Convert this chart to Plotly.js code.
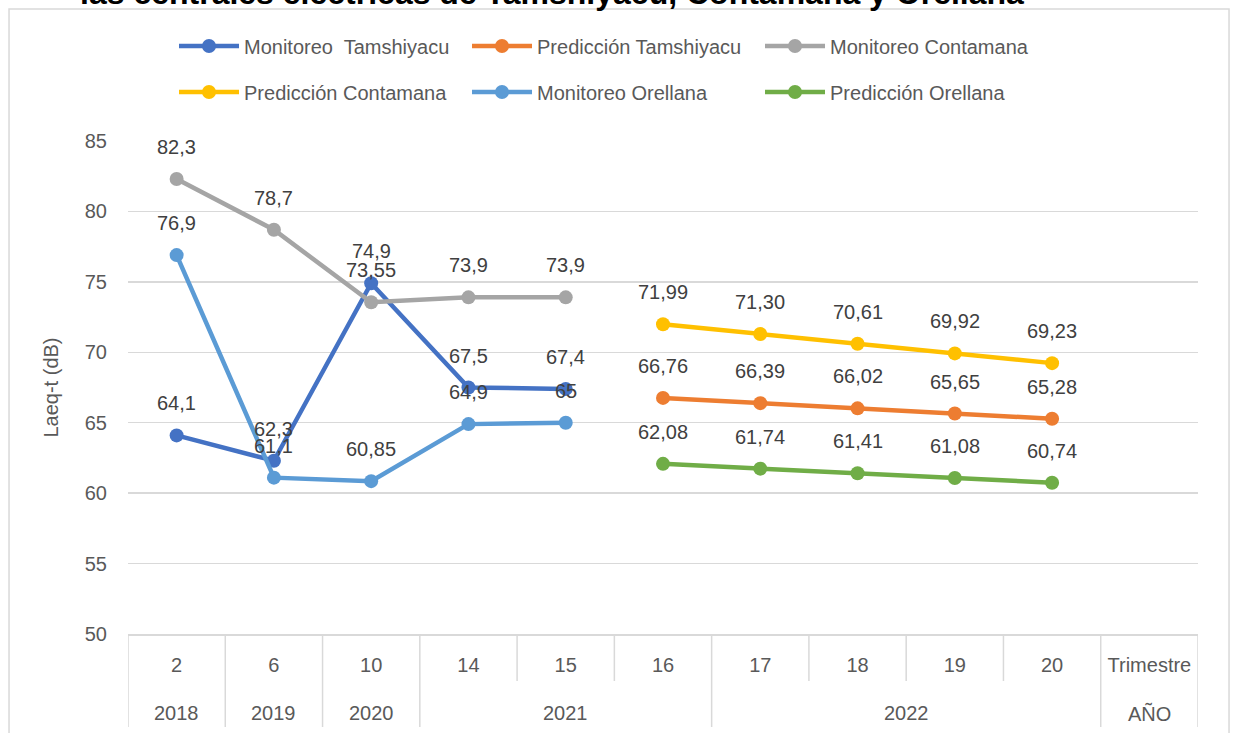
<!DOCTYPE html>
<html><head><meta charset="utf-8">
<script src="https://cdn.plot.ly/plotly-3.0.1.min.js"></script>
<style>body{margin:0;background:#fff}#chart{width:1234px;height:733px}</style>
</head><body><div id="chart"></div>
<script>
// ---- Data ----
const yearLabels    = ["2018","2019","2020","2021","2021","2021","2022","2022","2022","2022","AÑO"];
const quarterLabels = ["2","6","10","14","15","16","17","18","19","20","Trimestre"];

const monitoreoQuarters  = ["2","6","10","14","15"];
const prediccionQuarters = ["16","17","18","19","20"];

const monitoreoTamshiyacu  = [64.1, 62.3, 74.9, 67.5, 67.4];
const prediccionTamshiyacu = [66.76, 66.39, 66.02, 65.65, 65.28];
const monitoreoContamana   = [82.3, 78.7, 73.55, 73.9, 73.9];
const prediccionContamana  = [71.99, 71.30, 70.61, 69.92, 69.23];
const monitoreoOrellana    = [76.9, 61.1, 60.85, 64.9, 65];
const prediccionOrellana   = [62.08, 61.74, 61.41, 61.08, 60.74];

const seriesNames = ["Monitoreo  Tamshiyacu","Predicción Tamshiyacu","Monitoreo Contamana",
                     "Predicción Contamana","Monitoreo Orellana","Predicción Orellana"];
const seriesColors = ["#4472C4","#ED7D31","#A5A5A5","#FFC000","#5B9BD5","#70AD47"];

const titleText = "las centrales eléctricas de Tamshiyacu, Contamana y Orellana";
const yTitle = "Laeq-t (dB)";

// ---- Build ----
const FONT = "Liberation Sans, Arial, sans-serif";
const GRID = "#d9d9d9";
const PLOT_H = 493;
const series = [
  {y: monitoreoTamshiyacu,  kind: "mon"},
  {y: prediccionTamshiyacu, kind: "pred"},
  {y: monitoreoContamana,   kind: "mon"},
  {y: prediccionContamana,  kind: "pred"},
  {y: monitoreoOrellana,    kind: "mon"},
  {y: prediccionOrellana,   kind: "pred"}
];

const traces = [{
  type: "scatter", mode: "markers",
  x: quarterLabels, y: quarterLabels.map(() => null),
  showlegend: false, hoverinfo: "skip"
}];

const annotations = [];
series.forEach((s, i) => {
  const xs = s.kind === "mon" ? monitoreoQuarters : prediccionQuarters;
  traces.push({
    type: "scatter", mode: "lines+markers",
    name: seriesNames[i],
    x: xs, y: s.y,
    line: {color: seriesColors[i], width: 4.5},
    marker: {color: seriesColors[i], size: 14},
    legend: i < 3 ? "legend" : "legend2"
  });
  s.y.forEach((v, j) => {
    const txt = (s.kind === "pred" ? v.toFixed(2) : String(v)).replace(".", ",");
    annotations.push({
      x: quarterLabels.indexOf(xs[j]), y: v, xref: "x", yref: "y",
      text: txt, showarrow: false, yshift: 32,
      font: {family: FONT, size: 20, color: "#404040"}
    });
  });
});

// Year (outer level) labels and separators
const shapes = [];
const groups = [];
yearLabels.forEach((yl, k) => {
  if (k === 0 || yl !== yearLabels[k - 1]) groups.push({label: yl, start: k, end: k});
  else groups[groups.length - 1].end = k;
});
groups.forEach(g => {
  annotations.push({
    x: (g.start + g.end) / 2, xref: "x", y: 0, yref: "paper", yshift: -79,
    yanchor: "middle", showarrow: false, text: g.label,
    font: {family: FONT, size: 20, color: "#595959"}
  });
});
for (let k = 0; k <= quarterLabels.length; k++) {
  const isGroupEdge = k === 0 || k === quarterLabels.length || yearLabels[k] !== yearLabels[k - 1];
  shapes.push({
    type: "line", xref: "x", yref: "paper",
    x0: k - 0.5, x1: k - 0.5, y0: 0, y1: -(isGroupEdge ? 93 : 47) / PLOT_H,
    line: {color: GRID, width: 1.5}
  });
}

// Chart border
shapes.push({
  type: "rect", xref: "paper", yref: "paper",
  x0: -0.1112, x1: 1.029, y0: -0.22, y1: 1.2677,
  line: {color: GRID, width: 1.5}, fillcolor: "rgba(0,0,0,0)", layer: "below"
});

// Title (partially cut at top)
annotations.push({
  xref: "paper", yref: "paper", x: 0.396, y: 1, yshift: 148,
  xanchor: "center", yanchor: "middle", showarrow: false,
  text: "<b>" + titleText + "</b>",
  font: {family: FONT, size: 32, color: "#000"}
});

const legendBase = {
  orientation: "h", x: 0.043, xanchor: "left", yanchor: "middle",
  entrywidth: 218, entrywidthmode: "pixels", itemwidth: 60,
  font: {family: FONT, size: 20, color: "#595959"}, bgcolor: "rgba(0,0,0,0)"
};

const layout = {
  width: 1234, height: 733,
  margin: {l: 128, r: 36, t: 141, b: 99},
  paper_bgcolor: "#fff", plot_bgcolor: "#fff",
  font: {family: FONT, size: 20, color: "#595959"},
  xaxis: {
    type: "category", categoryorder: "array", categoryarray: quarterLabels,
    range: [-0.5, quarterLabels.length - 0.5],
    showgrid: false, zeroline: false,
    showline: true, linecolor: GRID, linewidth: 1.5,
    ticks: "", ticklabelstandoff: 12,
    tickfont: {family: FONT, size: 20, color: "#595959"},
    automargin: false, fixedrange: true
  },
  yaxis: {
    range: [50, 85], tick0: 50, dtick: 5,
    showgrid: true, gridcolor: GRID, gridwidth: 1.5,
    zeroline: false, showline: false, ticks: "",
    tickfont: {family: FONT, size: 20, color: "#595959"},
    ticklabelstandoff: 20,
    title: {text: yTitle, font: {family: FONT, size: 20, color: "#595959"}, standoff: 20},
    automargin: false, fixedrange: true
  },
  legend: Object.assign({}, legendBase, {y: 1 + (141 - 46) / PLOT_H}),
  legend2: Object.assign({}, legendBase, {y: 1 + (141 - 92) / PLOT_H}),
  shapes: shapes,
  annotations: annotations,
  hovermode: false
};

Plotly.newPlot("chart", traces, layout, {displayModeBar: false, staticPlot: true});
</script></body></html>
